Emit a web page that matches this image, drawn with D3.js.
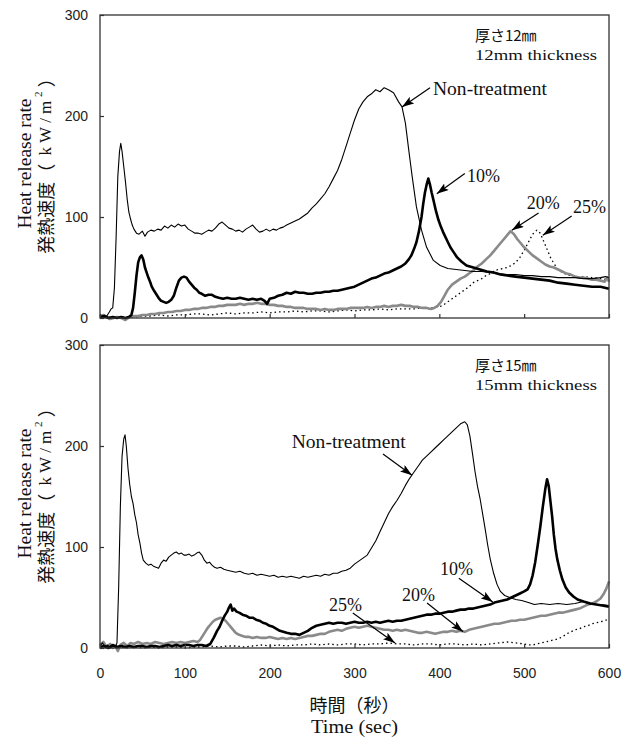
<!DOCTYPE html>
<html>
<head>
<meta charset="utf-8">
<script src="https://cdn.jsdelivr.net/npm/d3@7"></script>
<style>
body { margin: 0; background: #fff; }
svg { display: block; }
.tick text { font-family: "Liberation Sans", Arial, sans-serif; font-size: 14px; fill: #222; }
.tick line { stroke: #333; stroke-width: 1.2px; }
.serif { font-family: "Liberation Serif", "Times New Roman", serif; fill: #111; }
.jp { font-family: "Noto Sans CJK JP", sans-serif; fill: #111; }
</style>
</head>
<body>
<div id="chart"></div>
<script>
// tick values
var xTicks = [0, 100, 200, 300, 400, 500, 600],
    yTicks = [0, 100, 200, 300];

// 12mm thickness panel: [time (s), heat release rate (kW/m2)]
var top12_non = [[0,1],[4,0],[8,2],[11,6],[13,9],[15,10],[17,30],[19,80],[21,140],[23,165],[24.5,173],[26,165],[28,150],[30,135],[32,118],[34,105],[36,98],[38,92],[40,88],[43,84],[46,83],[50,86],[53,81],[56,85],[60,87],[64,86],[68,88],[72,87],[76,91],[80,89],[84,92],[88,90],[92,93],[96,91],[100,92],[104,88],[108,86],[112,84],[116,84],[120,83],[124,85],[128,87],[132,86],[136,89],[140,93],[144,95],[148,92],[152,89],[156,88],[160,86],[164,87],[168,85],[172,88],[176,90],[180,92],[184,88],[188,85],[192,86],[196,88],[200,86],[204,88],[208,87],[212,89],[216,90],[220,92],[225,94],[230,96],[235,98],[240,101],[245,104],[250,109],[255,113],[260,118],[265,123],[270,130],[275,138],[280,146],[285,157],[290,170],[295,183],[300,196],[305,207],[310,214],[315,219],[320,222],[325,226],[330,224],[335,228],[340,226],[346,223],[352,214],[356,209],[360,193],[364,166],[368,140],[373,110],[379,87],[385,70],[393,57],[401,52],[410,49],[420,48],[430,47],[440,46],[450,46],[460,45],[470,44],[480,43],[490,43],[500,42],[510,42],[520,41],[530,41],[540,40],[550,40],[560,40],[570,39],[580,39],[590,40],[596,41],[600,40]];

var top12_10 = [[0,1],[5,2],[10,0],[15,1],[20,0],[25,1],[30,0],[34,1],[37,3],[39,10],[41,25],[43,42],[45,55],[47,60],[49,62],[51,58],[53,50],[55,45],[57,40],[59,36],[61,31],[63,28],[66,24],[69,20],[72,17],[75,16],[78,15],[81,16],[84,18],[87,22],[90,30],[93,37],[96,40],[99,41],[102,40],[105,36],[108,33],[111,30],[114,28],[117,25],[120,24],[124,22],[128,23],[132,23],[136,21],[140,20],[145,19],[150,20],[155,19],[160,19],[165,20],[170,19],[175,18],[180,19],[185,18],[190,19],[194,17],[197,14],[200,19],[205,20],[210,22],[215,23],[220,25],[225,24],[230,26],[235,25],[240,25],[245,24],[250,24],[255,25],[260,25],[265,26],[270,26],[275,27],[280,27],[285,28],[290,29],[295,30],[300,31],[305,33],[310,35],[315,37],[320,39],[325,40],[330,42],[335,44],[340,45],[345,47],[350,49],[355,51],[360,54],[364,58],[367,62],[370,68],[373,75],[376,86],[379,100],[381,113],[383,124],[385,132],[387,138],[389,132],[391,124],[393,117],[396,106],[399,97],[402,90],[405,84],[409,77],[413,70],[417,65],[421,60],[426,56],[432,52],[440,50],[448,48],[456,46],[464,45],[472,43],[480,42],[490,41],[500,40],[510,39],[520,38],[530,37],[540,35],[550,34],[560,33],[570,32],[580,31],[590,31],[600,29]];

var top12_20 = [[0,2],[4,3],[8,1],[12,-1],[16,0],[20,1],[25,0],[30,-2],[35,1],[40,2],[45,2],[50,3],[55,3],[60,4],[65,4],[70,5],[75,5],[80,6],[85,6],[90,7],[95,7],[100,8],[105,8],[110,9],[115,9],[120,10],[125,10],[130,11],[135,11],[140,12],[145,12],[150,13],[155,13],[160,13],[165,14],[170,13],[175,14],[180,14],[185,15],[190,14],[195,14],[200,13],[205,13],[210,12],[215,12],[220,11],[225,11],[230,10],[235,10],[240,10],[245,9],[250,9],[255,9],[260,8],[265,9],[270,8],[275,8],[280,9],[285,9],[290,9],[295,10],[300,10],[305,10],[310,10],[315,11],[320,10],[325,11],[330,11],[335,12],[340,11],[345,12],[350,12],[355,13],[360,12],[365,12],[370,11],[375,11],[380,10],[385,10],[390,9],[394,10],[398,12],[402,16],[406,22],[410,28],[415,33],[420,36],[425,39],[430,41],[435,44],[440,47],[445,51],[450,54],[455,58],[460,62],[465,67],[470,72],[475,77],[480,82],[484,86],[488,83],[492,78],[496,74],[500,70],[505,66],[510,62],[515,59],[520,56],[525,53],[530,51],[535,50],[540,48],[545,46],[550,44],[555,43],[560,41],[565,40],[570,40],[575,39],[580,38],[585,38],[590,37],[595,36],[598,40],[600,36]];

var top12_25 = [[0,0],[10,1],[20,0],[30,1],[40,1],[50,2],[60,2],[70,3],[80,2],[90,3],[100,3],[110,4],[120,4],[130,3],[140,4],[150,5],[160,4],[170,5],[180,5],[190,6],[200,5],[210,6],[220,6],[230,7],[240,6],[250,7],[260,7],[270,6],[280,7],[290,8],[300,7],[310,8],[320,8],[330,9],[340,8],[350,9],[360,9],[370,9],[380,10],[390,10],[400,11],[405,13],[410,16],[415,19],[420,22],[425,25],[430,28],[435,31],[440,35],[445,37],[450,39],[455,42],[460,44],[465,47],[470,48],[475,49],[480,50],[485,52],[490,55],[495,60],[500,67],[505,75],[510,83],[515,87],[519,84],[523,76],[527,68],[531,60],[535,54],[540,48],[545,45],[550,43],[560,41],[570,41],[580,40],[590,39],[600,38]];

// 15mm thickness panel
var bot15_non = [[0,2],[3,5],[6,1],[9,3],[12,0],[15,2],[18,1],[20,5],[22,60],[24,140],[26,190],[28,207],[29.5,211],[31,200],[33,178],[35,162],[37,150],[39,143],[41,132],[43,124],[45,112],[47,104],[49,94],[51,87],[54,84],[57,82],[60,83],[63,81],[66,80],[69,79],[72,84],[75,87],[78,86],[81,90],[84,92],[87,94],[90,95],[93,93],[96,94],[99,92],[102,92],[105,93],[108,91],[111,92],[114,94],[117,95],[120,92],[123,87],[126,84],[129,85],[132,82],[135,80],[138,79],[142,80],[146,78],[150,77],[155,76],[160,75],[165,76],[170,74],[175,73],[180,74],[185,72],[190,73],[195,72],[200,71],[205,72],[210,70],[215,71],[220,70],[225,71],[230,70],[235,69],[240,71],[245,70],[250,71],[255,72],[260,71],[265,73],[270,72],[275,74],[280,74],[285,76],[290,77],[295,79],[300,83],[305,86],[310,89],[315,92],[320,99],[325,106],[330,115],[335,124],[340,133],[345,140],[350,146],[355,153],[360,161],[365,168],[370,174],[375,180],[380,186],[385,190],[390,194],[395,198],[400,202],[405,206],[410,210],[415,214],[420,218],[425,222],[430,224],[433,221],[436,210],[439,193],[442,175],[445,160],[448,148],[451,133],[454,118],[457,102],[460,88],[464,74],[468,63],[472,56],[477,52],[483,50],[490,48],[497,47],[505,45],[512,43],[520,44],[530,43],[540,44],[550,43],[560,44],[570,46],[575,44],[580,43],[590,43],[600,42]];

var bot15_10 = [[0,1],[5,2],[10,0],[15,3],[20,1],[25,2],[30,1],[35,2],[40,1],[45,2],[50,2],[55,1],[60,2],[65,2],[70,1],[75,2],[80,3],[85,2],[90,3],[95,2],[100,3],[105,3],[110,2],[115,3],[120,3],[125,2],[130,4],[134,10],[138,17],[141,21],[144,27],[147,32],[150,36],[152,40],[154,43],[156,37],[158,39],[161,36],[164,35],[168,33],[172,32],[176,30],[180,30],[184,28],[188,27],[192,25],[196,24],[200,22],[204,21],[208,19],[212,17],[216,16],[220,15],[225,14],[230,14],[235,13],[240,15],[245,17],[250,20],[255,22],[260,23],[265,24],[270,25],[275,24],[280,25],[285,25],[290,24],[295,25],[300,26],[305,25],[310,25],[315,26],[320,25],[325,26],[330,25],[335,26],[340,27],[345,26],[350,27],[355,27],[360,28],[365,29],[370,30],[375,31],[380,32],[385,33],[390,33],[395,34],[400,34],[405,35],[410,36],[415,36],[420,37],[425,38],[430,38],[435,39],[440,39],[445,40],[450,41],[455,42],[460,43],[465,45],[470,46],[475,47],[480,48],[485,50],[490,52],[495,54],[500,56],[504,58],[507,63],[510,72],[513,85],[516,102],[519,120],[522,140],[525,158],[527,167],[529,160],[531,145],[533,130],[535,112],[537,98],[539,88],[542,77],[545,68],[549,60],[553,55],[558,51],[563,48],[570,46],[578,44],[585,43],[592,42],[600,41]];

var bot15_20 = [[0,3],[4,6],[8,1],[12,4],[15,0],[18,2],[21,-3],[24,3],[28,5],[32,2],[36,5],[40,4],[45,6],[50,4],[55,5],[60,4],[65,6],[70,5],[75,4],[80,5],[85,6],[90,5],[95,6],[100,5],[105,6],[110,7],[115,6],[118,8],[121,12],[124,16],[127,20],[130,23],[133,26],[136,28],[139,29],[142,30],[145,29],[148,27],[151,24],[154,21],[157,18],[160,15],[164,13],[168,12],[172,11],[176,11],[180,10],[185,11],[190,10],[195,10],[200,11],[205,10],[210,9],[215,10],[220,9],[225,10],[230,9],[235,10],[240,11],[245,12],[250,12],[255,13],[260,14],[265,14],[270,16],[275,17],[280,18],[285,17],[290,19],[295,20],[300,21],[305,20],[310,21],[315,22],[320,21],[325,20],[330,19],[335,18],[340,18],[345,17],[350,18],[355,17],[360,18],[365,17],[370,16],[375,15],[380,15],[385,16],[390,15],[395,14],[400,15],[405,16],[410,16],[415,17],[420,16],[425,17],[430,16],[435,18],[440,19],[445,20],[450,21],[455,22],[460,23],[465,24],[470,24],[475,25],[480,26],[485,27],[490,27],[495,28],[500,28],[505,29],[510,30],[515,31],[520,32],[525,32],[530,33],[535,34],[540,35],[545,35],[550,36],[555,37],[560,38],[565,39],[570,41],[575,43],[580,44],[585,46],[590,49],[594,54],[597,59],[600,66]];

var bot15_25 = [[0,1],[10,0],[20,2],[30,0],[40,1],[50,0],[60,1],[70,0],[80,1],[90,1],[100,0],[110,1],[120,1],[130,2],[140,1],[150,2],[160,2],[170,1],[180,2],[190,3],[200,2],[210,3],[220,2],[230,3],[240,3],[250,4],[260,3],[270,4],[280,3],[290,4],[300,4],[310,3],[320,4],[330,4],[340,5],[350,4],[360,4],[370,3],[380,4],[390,4],[400,3],[410,4],[420,4],[430,3],[440,4],[450,3],[460,4],[470,5],[480,6],[490,5],[500,4],[505,3],[510,3],[515,4],[520,5],[525,6],[530,7],[535,8],[540,9],[545,11],[550,14],[555,16],[560,18],[565,19],[570,21],[575,22],[580,24],[585,25],[590,26],[595,27],[600,29]];

// text labels and arrows, in data units: label, text pos [t,v], arrow from [t,v] to tip [t,v]
var top12_notes = [
  {text: "Non-treatment", at: [392.5, 221], from: [389, 228], to: [356, 209]},
  {text: "10%", at: [432.6, 135], from: [430, 143], to: [397, 123]},
  {text: "20%", at: [503, 108], from: [517, 104], to: [485.5, 87]},
  {text: "25%", at: [557.6, 104], from: [556, 101], to: [522, 82]}
];
var bot15_notes = [
  {text: "Non-treatment", at: [226, 198], from: [333.6, 192], to: [367.8, 171]},
  {text: "10%", at: [400.8, 72], from: [423, 69], to: [463, 45.5]},
  {text: "20%", at: [356, 46.5], from: [385.5, 44.5], to: [428, 16]},
  {text: "25%", at: [270, 36.6], from: [298, 34.7], to: [347.8, 5]}
];

var panels = [
  {top: 15, bottom: 318, jp: "厚さ12㎜", en: "12mm thickness", labels: false,
   series: [top12_25, top12_20, top12_non, top12_10], notes: top12_notes},
  {top: 345, bottom: 648, jp: "厚さ15㎜", en: "15mm thickness", labels: true,
   series: [bot15_25, bot15_20, bot15_non, bot15_10], notes: bot15_notes}
];

// style per series, same order as panel.series
var styles = [
  {stroke: "#000", width: 1.3, dash: "1.5,3"},
  {stroke: "#8a8a8a", width: 2.6, dash: null},
  {stroke: "#000", width: 1.1, dash: null},
  {stroke: "#000", width: 2.6, dash: null}
];

var outerWidth = 624, outerHeight = 740;

var svg = d3.select("#chart").append("svg")
    .attr("width", outerWidth)
    .attr("height", outerHeight);

svg.append("defs").append("marker")
    .attr("id", "arrowhead")
    .attr("markerUnits", "userSpaceOnUse")
    .attr("viewBox", "0 0 12 8")
    .attr("refX", 12).attr("refY", 4)
    .attr("markerWidth", 12).attr("markerHeight", 8)
    .attr("orient", "auto")
  .append("path")
    .attr("d", "M0,0 L12,4 L0,8 L2.5,4 Z")
    .attr("fill", "#000");

var xScale = d3.scaleLinear().domain([0, 600]).range([100, 609]);

panels.forEach(function(p) {
    var yScale = d3.scaleLinear().domain([0, 300]).range([p.bottom, p.top]);
    var g = svg.append("g");

    // series lines
    var line = d3.line()
        .x(function(d) { return xScale(d[0]); })
        .y(function(d) { return yScale(d[1]); });

    p.series.forEach(function(s, i) {
        g.append("path")
            .datum(s)
            .attr("d", line)
            .attr("fill", "none")
            .attr("stroke", styles[i].stroke)
            .attr("stroke-width", styles[i].width)
            .attr("stroke-linejoin", "round")
            .attr("stroke-dasharray", styles[i].dash);
    });

    // frame
    g.append("rect")
        .attr("x", xScale(0))
        .attr("y", yScale(300))
        .attr("width", xScale(600) - xScale(0))
        .attr("height", yScale(0) - yScale(300))
        .attr("fill", "none")
        .attr("stroke", "#333")
        .attr("stroke-width", 1.3);

    // axes, ticks pointing inward
    var yAxis = d3.axisLeft(yScale).tickValues(yTicks)
        .tickSizeInner(-4).tickSizeOuter(0).tickPadding(12);
    g.append("g")
        .attr("transform", "translate(" + xScale(0) + ",0)")
        .call(yAxis)
        .call(function(a) { a.select(".domain").remove(); });

    var xAxis = d3.axisBottom(xScale).tickValues(xTicks)
        .tickSizeInner(-4).tickSizeOuter(0).tickPadding(20);
    if (!p.labels) xAxis.tickFormat("");
    g.append("g")
        .attr("transform", "translate(0," + yScale(0) + ")")
        .call(xAxis)
        .call(function(a) { a.select(".domain").remove(); });

    // y title, two rotated lines
    var cy = (p.top + p.bottom) / 2 - 3;
    g.append("text")
        .attr("class", "serif")
        .attr("transform", "translate(25," + cy + ") rotate(-90)")
        .attr("text-anchor", "middle")
        .attr("dominant-baseline", "central")
        .attr("font-size", 18)
        .attr("textLength", 130)
        .attr("lengthAdjust", "spacingAndGlyphs")
        .text("Heat release rate");

    var jt = g.append("text")
        .attr("class", "jp")
        .attr("transform", "translate(45," + (cy - 2) + ") rotate(-90)")
        .attr("text-anchor", "middle")
        .attr("dominant-baseline", "central")
        .attr("font-size", 18);
    jt.append("tspan").text("発熱速度（");
    jt.append("tspan").attr("class", "serif").attr("font-size", 17)
        .attr("letter-spacing", 4).text(" kW/m");
    jt.append("tspan").attr("class", "serif").attr("font-size", 11)
        .attr("dy", -7).text("2");
    jt.append("tspan").attr("dy", 7).text(" ）");

    // thickness label
    g.append("text")
        .attr("class", "jp")
        .attr("x", xScale(442))
        .attr("y", p.top + 26)
        .attr("font-size", 15)
        .text(p.jp);
    g.append("text")
        .attr("class", "serif")
        .attr("x", xScale(442))
        .attr("y", p.top + 45)
        .attr("font-size", 15)
        .attr("textLength", 122)
        .attr("lengthAdjust", "spacingAndGlyphs")
        .text(p.en);

    // annotations
    p.notes.forEach(function(n) {
        var t = g.append("text")
            .attr("class", "serif")
            .attr("x", xScale(n.at[0]))
            .attr("y", yScale(n.at[1]))
            .attr("font-size", 18)
            .text(n.text);
        if (n.text.length > 4) t.attr("textLength", 114).attr("lengthAdjust", "spacingAndGlyphs");
        g.append("line")
            .attr("x1", xScale(n.from[0])).attr("y1", yScale(n.from[1]))
            .attr("x2", xScale(n.to[0])).attr("y2", yScale(n.to[1]))
            .attr("stroke", "#000")
            .attr("stroke-width", 1.2)
            .attr("marker-end", "url(#arrowhead)");
    });
});

// x title
svg.append("text")
    .attr("class", "jp")
    .attr("x", xScale(300))
    .attr("y", 704)
    .attr("text-anchor", "middle")
    .attr("dominant-baseline", "central")
    .attr("font-size", 18)
    .text("時間（秒）");

svg.append("text")
    .attr("class", "serif")
    .attr("x", xScale(300))
    .attr("y", 727)
    .attr("text-anchor", "middle")
    .attr("dominant-baseline", "central")
    .attr("font-size", 18)
    .attr("textLength", 87)
    .attr("lengthAdjust", "spacingAndGlyphs")
    .text("Time (sec)");
</script>
</body>
</html>
